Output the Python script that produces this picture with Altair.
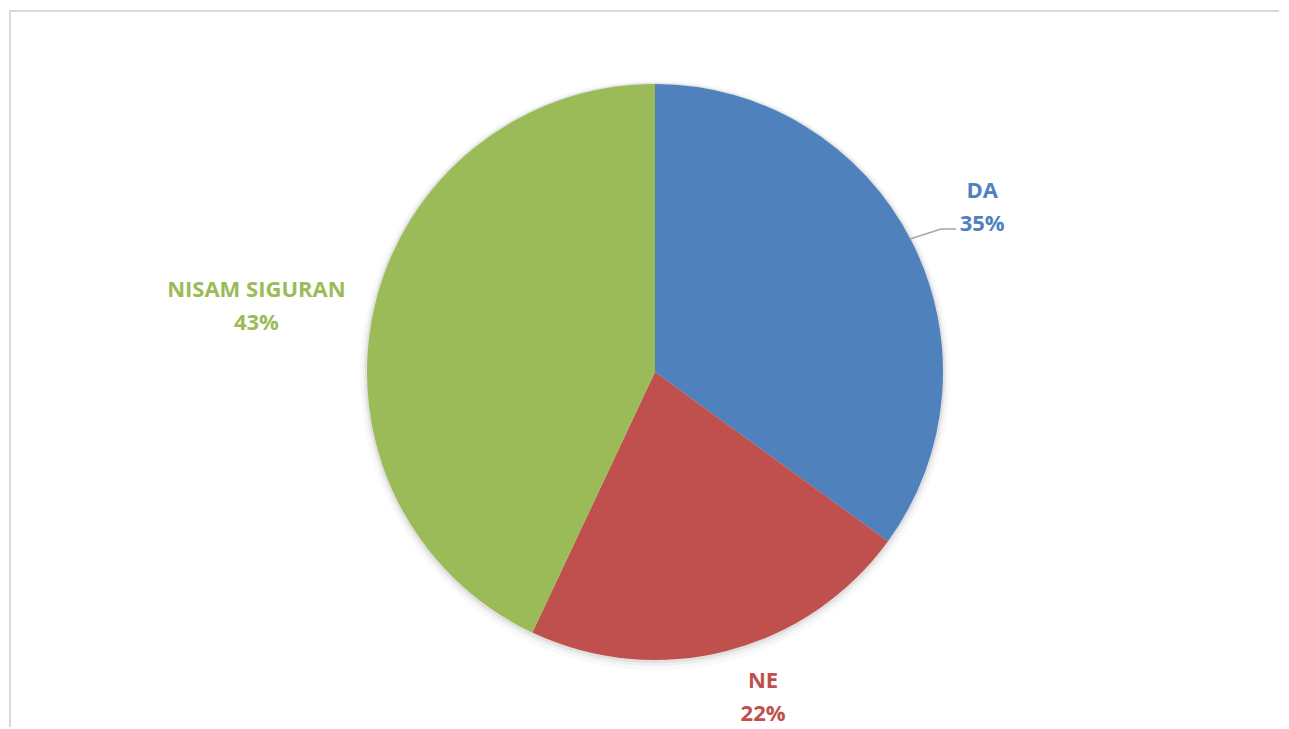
import altair as alt
import pandas as pd

categories = ["DA", "NE", "NISAM SIGURAN"]
values = [35, 22, 43]
pct_labels = ["35%", "22%", "43%"]
colors = ["#4F81BD", "#C0504D", "#9BBB59"]

# label placement (layout only): distance from centre and angular nudge
label_radius = [366, 343, 404]
label_shift = [0.1, -1.1, -0.9]

df = pd.DataFrame({
    "cat": categories,
    "val": values,
    "pct": pct_labels,
    "order": list(range(len(categories))),
    "lr": label_radius,
})
total = float(sum(values))
df["ltheta"] = df["val"].cumsum() - df["val"] / 2.0 + pd.Series(label_shift)

W, H = 1210, 713
CX, CY = 646, 364
R = 288
FONT = "Open Sans"
FS = 22
LINE = 16.5

color_scale = alt.Scale(domain=categories, range=colors)

arc_base = alt.Chart(df).encode(
    theta=alt.Theta("val:Q", stack=True),
    order=alt.Order("order:Q"),
)

shadow1 = arc_base.mark_arc(outerRadius=R + 7, color="#000000", opacity=0.025).encode(
    x=alt.value(CX), y=alt.value(CY + 3)
)
shadow2 = arc_base.mark_arc(outerRadius=R + 4, color="#000000", opacity=0.04).encode(
    x=alt.value(CX), y=alt.value(CY + 2)
)
shadow3 = arc_base.mark_arc(outerRadius=R + 2, color="#000000", opacity=0.06).encode(
    x=alt.value(CX), y=alt.value(CY + 1)
)

pie = arc_base.mark_arc(outerRadius=R).encode(
    color=alt.Color("cat:N", scale=color_scale, legend=None),
    x=alt.value(CX),
    y=alt.value(CY),
)


def label_layer(field, dy):
    return alt.Chart(df).mark_text(
        font=FONT, fontSize=FS, fontWeight="bold", dy=dy
    ).encode(
        theta=alt.Theta("ltheta:Q", stack=None, scale=alt.Scale(domain=[0, total])),
        radius=alt.Radius("lr:Q", scale=None),
        text=f"{field}:N",
        color=alt.Color("cat:N", scale=color_scale, legend=None),
        x=alt.value(CX),
        y=alt.value(CY),
    )


name_txt = label_layer("cat", -LINE)
pct_txt = label_layer("pct", LINE)

# leader line for DA label
leader_x = [901, 932, 947]
leader_y = [231, 221, 221]
leader_df = pd.DataFrame({"px": leader_x, "py": leader_y, "i": [0, 1, 2]})
leader = alt.Chart(leader_df).mark_line(color="#A6A6A6", strokeWidth=1.5).encode(
    x=alt.X("px:Q", scale=alt.Scale(domain=[0, W], range=[0, W]), axis=None),
    y=alt.Y("py:Q", scale=alt.Scale(domain=[0, H], range=[0, H]), axis=None),
    order="i:Q",
)

top_border = alt.Chart(df.head(1)).mark_rule(color="#D9D9D9", strokeWidth=2).encode(
    x=alt.value(0), x2=alt.value(1270), y=alt.value(3)
)
left_border = alt.Chart(df.head(1)).mark_rule(color="#D9D9D9", strokeWidth=2).encode(
    x=alt.value(1), y=alt.value(2), y2=alt.value(719)
)

chart = alt.layer(
    top_border, left_border, shadow1, shadow2, shadow3, pie, leader, name_txt, pct_txt
).properties(
    width=W, height=H, padding=0
).configure_view(stroke=None).resolve_scale(theta="independent")

chart.save("out.html", embed_options={"renderer": "svg", "actions": False})
